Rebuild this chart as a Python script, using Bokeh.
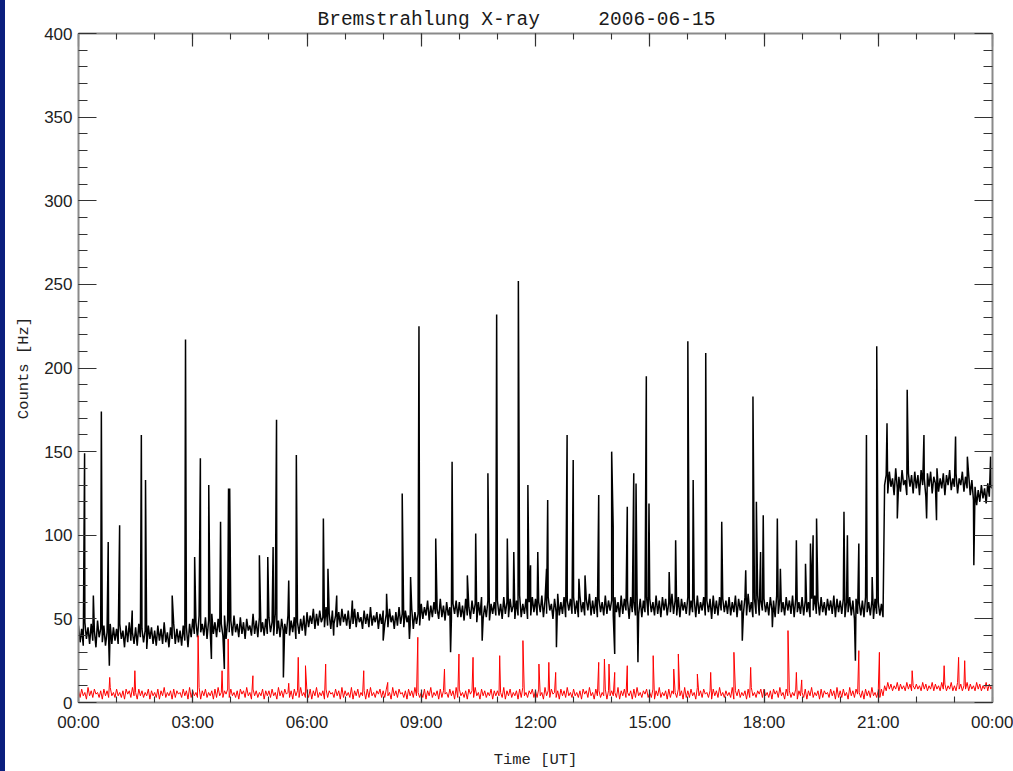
import numpy as np
from bokeh.plotting import figure
from bokeh.models import LinearAxis, FixedTicker, Range1d, Spacer
from bokeh.layouts import row
from bokeh.embed import file_html
from bokeh.resources import INLINE

# ---------------- text / ticks ----------------
title_text = "Bremstrahlung X-ray\u00a0\u00a0\u00a0\u00a0\u00a02006-06-15"
x_label = "Time [UT]"
y_label = "Counts [Hz]"
x_tick_hours = [0, 3, 6, 9, 12, 15, 18, 21, 24]
x_tick_labels = ["00:00", "03:00", "06:00", "09:00", "12:00",
                 "15:00", "18:00", "21:00", "00:00"]
x_minor_hours = list(range(0, 25))
y_ticks = [0, 50, 100, 150, 200, 250, 300, 350, 400]
y_minor = list(range(0, 401, 10))

step_min = 2.5   # background samples every 2.5 minutes (24 per hour)

# ---------------- black series (total counts) ----------------
black_00_06 = [
    46, 36, 44, 34, 48, 38, 45, 35, 47, 37, 43, 33, 49, 39, 44, 36, 46, 34, 42, 38, 47, 35, 45, 37,
    44, 35, 47, 38, 43, 33, 46, 36, 48, 37, 42, 35, 45, 34, 47, 39, 44, 36, 43, 32, 46, 38, 45, 35,
    43, 34, 46, 37, 44, 35, 48, 36, 42, 33, 45, 38, 47, 35, 44, 36, 43, 34, 46, 37, 45, 33, 47, 39,
    50, 41, 48, 39, 52, 42, 47, 40, 51, 38, 49, 43, 53, 41, 48, 39, 50, 42, 47, 40, 52, 38, 49, 42,
    49, 40, 52, 42, 47, 39, 51, 41, 48, 38, 50, 43, 46, 40, 53, 41, 49, 39, 51, 42, 48, 40, 50, 41,
    51, 42, 48, 40, 53, 41, 49, 39, 50, 43, 47, 41, 52, 40, 49, 42, 51, 38, 48, 41, 50, 43, 52, 40]
black_06_12 = [
    54, 45, 52, 47, 56, 44, 53, 46, 55, 48, 51, 45, 57, 46, 53, 44, 55, 47, 52, 45, 54, 46, 56, 48,
    53, 46, 55, 44, 52, 47, 56, 45, 54, 48, 51, 44, 55, 47, 53, 45, 57, 46, 52, 48, 54, 44, 53, 47,
    55, 47, 53, 45, 56, 48, 52, 44, 54, 46, 57, 47, 53, 45, 55, 48, 52, 46, 56, 44, 54, 47, 53, 46,
    59, 50, 57, 52, 61, 49, 58, 51, 60, 53, 56, 50, 62, 51, 58, 49, 60, 52, 57, 50, 59, 53, 61, 51,
    60, 51, 58, 49, 62, 52, 57, 50, 61, 53, 59, 48, 60, 52, 63, 50, 58, 51, 61, 49, 59, 53, 60, 52,
    61, 52, 59, 50, 63, 53, 60, 51, 62, 54, 58, 50, 61, 52, 64, 51, 59, 53, 62, 50, 60, 52, 63, 54]
black_12_18 = [
    62, 52, 60, 54, 64, 51, 61, 53, 63, 55, 59, 50, 62, 54, 65, 52, 60, 53, 63, 51, 61, 55, 62, 53,
    63, 53, 61, 51, 64, 54, 60, 52, 62, 55, 65, 52, 61, 53, 63, 51, 62, 54, 60, 52, 64, 53, 61, 55,
    61, 52, 63, 54, 60, 51, 64, 53, 62, 55, 61, 50, 63, 54, 60, 52, 65, 53, 62, 51, 61, 54, 63, 52,
    62, 54, 60, 52, 64, 53, 61, 51, 63, 55, 62, 52, 60, 54, 65, 53, 61, 52, 63, 51, 62, 55, 60, 53,
    63, 52, 61, 54, 62, 51, 64, 53, 60, 55, 63, 52, 61, 54, 62, 50, 64, 53, 61, 52, 63, 55, 62, 54,
    61, 53, 63, 52, 60, 54, 64, 51, 62, 55, 61, 53, 63, 52, 65, 54, 60, 51, 62, 53, 64, 52, 61, 55]
black_18_24 = [
    62, 54, 60, 52, 63, 55, 61, 51, 64, 53, 62, 54, 60, 52, 63, 55, 61, 53, 64, 51, 62, 54, 60, 53,
    63, 52, 61, 54, 60, 51, 62, 55, 64, 53, 61, 52, 63, 54, 60, 52, 62, 55, 61, 53, 64, 51, 62, 54,
    61, 53, 62, 51, 60, 54, 63, 52, 61, 50, 62, 53, 60, 52, 61, 51, 63, 54, 60, 52, 61, 50, 62, 53,
    60, 52, 59, 51, 130, 136, 125, 138, 129, 134, 124, 140, 128, 135, 126, 139, 130, 133, 124, 137, 129, 136, 125, 138,
    128, 136, 124, 139, 130, 134, 123, 137, 129, 138, 125, 135, 131, 140, 126, 134, 128, 137, 124, 136, 130, 139, 127, 134,
    129, 137, 125, 134, 130, 138, 126, 135, 128, 136, 124, 133, 121, 129, 118, 127, 120, 130, 122, 128, 119, 131, 123, 129,
    128]

# spikes and dips of the black series (hour of day, counts)
black_spike_t = [0.16, 0.39, 0.60, 0.78, 0.81, 1.08, 1.41, 1.65, 1.76, 2.46,
                 2.81, 3.05, 3.20, 3.42, 3.49, 3.73, 3.83, 3.94, 3.97, 4.75,
                 4.97, 5.11, 5.20, 5.38, 5.52, 5.72, 6.43, 6.55, 6.70, 6.78,
                 7.19, 8.00, 8.09, 8.50, 8.69, 8.72, 8.94, 9.38, 9.77, 9.81,
                 10.21, 10.43, 10.60, 10.75, 10.98, 11.26, 11.43, 11.55, 11.80, 11.87,
                 12.06, 12.29, 12.32, 12.55, 12.83, 12.99, 13.14, 13.30, 13.66, 14.00,
                 14.04, 14.08, 14.41, 14.58, 14.64, 14.69, 14.91, 14.98, 15.51, 15.68,
                 16.00, 16.14, 16.47, 16.89, 17.43, 17.52, 17.71, 17.80, 17.91, 17.98,
                 18.22, 18.35, 18.43, 18.85, 19.09, 19.22, 19.29, 19.38, 20.10, 20.19,
                 20.40, 20.49, 20.69, 20.84, 20.96, 21.23, 21.50, 21.76, 22.20, 22.27,
                 22.53, 23.03, 23.34, 23.51, 23.95]
black_spike_v = [149, 64, 174, 96, 22, 106, 55, 160, 133, 64,
                 217, 87, 146, 130, 26, 108, 20, 128, 128, 88,
                 87, 93, 169, 15, 73, 148, 110, 80, 40, 64,
                 61, 37, 65, 125, 38, 75, 225, 98, 30, 144,
                 76, 101, 37, 137, 232, 98, 90, 252, 130, 82,
                 90, 80, 121, 33, 160, 145, 74, 76, 124, 150,
                 105, 29, 117, 137, 131, 24, 195, 119, 78, 97,
                 216, 133, 209, 108, 37, 79, 183, 120, 90, 112,
                 45, 110, 80, 97, 83, 95, 100, 110, 114, 100,
                 25, 95, 160, 75, 213, 167, 110, 187, 160, 110,
                 109, 159, 147, 82, 147]

# ---------------- red series ----------------
red_00_06 = [
    7, 3, 8, 4, 6, 2, 9, 4, 7, 3, 8, 5, 6, 3, 7, 2, 8, 4, 7, 3, 9, 4, 6, 3,
    8, 4, 6, 3, 7, 2, 8, 5, 7, 3, 9, 4, 6, 2, 8, 4, 7, 3, 6, 4, 8, 2, 7, 4,
    6, 3, 8, 2, 7, 4, 9, 3, 6, 4, 7, 2, 8, 3, 7, 5, 6, 3, 8, 4, 7, 2, 9, 3,
    7, 4, 6, 3, 9, 2, 7, 4, 8, 3, 6, 4, 7, 2, 8, 3, 9, 4, 6, 3, 7, 5, 8, 3,
    8, 4, 6, 3, 7, 2, 8, 5, 7, 3, 9, 4, 6, 2, 8, 4, 7, 3, 6, 4, 8, 2, 7, 4,
    7, 3, 8, 4, 6, 2, 9, 4, 7, 3, 8, 5, 6, 3, 7, 2, 8, 4, 7, 3, 9, 4, 6, 3]
red_06_12 = [
    6, 3, 8, 2, 7, 4, 9, 3, 6, 4, 7, 2, 8, 3, 7, 5, 6, 3, 8, 4, 7, 2, 9, 3,
    7, 4, 6, 3, 9, 2, 7, 4, 8, 3, 6, 4, 7, 2, 8, 3, 9, 4, 6, 3, 7, 5, 8, 3,
    7, 3, 8, 4, 6, 2, 9, 4, 7, 3, 8, 5, 6, 3, 7, 2, 8, 4, 7, 3, 9, 4, 6, 3,
    6, 3, 8, 2, 7, 4, 9, 3, 6, 4, 7, 2, 8, 3, 7, 5, 6, 3, 8, 4, 7, 2, 9, 3,
    8, 4, 6, 3, 7, 2, 8, 5, 7, 3, 9, 4, 6, 2, 8, 4, 7, 3, 6, 4, 8, 2, 7, 4,
    7, 4, 6, 3, 9, 2, 7, 4, 8, 3, 6, 4, 7, 2, 8, 3, 9, 4, 6, 3, 7, 5, 8, 3]
red_12_18 = [
    7, 3, 8, 4, 6, 2, 9, 4, 7, 3, 8, 5, 6, 3, 7, 2, 8, 4, 7, 3, 9, 4, 6, 3,
    8, 4, 6, 3, 7, 2, 8, 5, 7, 3, 9, 4, 6, 2, 8, 4, 7, 3, 6, 4, 8, 2, 7, 4,
    7, 4, 6, 3, 9, 2, 7, 4, 8, 3, 6, 4, 7, 2, 8, 3, 9, 4, 6, 3, 7, 5, 8, 3,
    6, 3, 8, 2, 7, 4, 9, 3, 6, 4, 7, 2, 8, 3, 7, 5, 6, 3, 8, 4, 7, 2, 9, 3,
    7, 3, 8, 4, 6, 2, 9, 4, 7, 3, 8, 5, 6, 3, 7, 2, 8, 4, 7, 3, 9, 4, 6, 3,
    7, 4, 6, 3, 9, 2, 7, 4, 8, 3, 6, 4, 7, 2, 8, 3, 9, 4, 6, 3, 7, 5, 8, 3]
red_18_24 = [
    8, 4, 6, 3, 7, 2, 8, 5, 7, 3, 9, 4, 6, 2, 8, 4, 7, 3, 6, 4, 8, 2, 7, 4,
    6, 3, 8, 2, 7, 4, 9, 3, 6, 4, 7, 2, 8, 3, 7, 5, 6, 3, 8, 4, 7, 2, 9, 3,
    7, 3, 8, 4, 6, 2, 9, 4, 7, 3, 8, 5, 6, 3, 7, 2, 8, 4, 7, 3, 9, 4, 6, 3,
    7, 3, 8, 4, 10, 7, 12, 8, 11, 7, 10, 8, 12, 7, 11, 8, 10, 7, 12, 8, 11, 7, 10, 8,
    11, 8, 10, 7, 12, 8, 11, 7, 10, 8, 12, 7, 11, 8, 10, 7, 12, 8, 11, 7, 10, 8, 12, 7,
    10, 7, 12, 8, 11, 7, 10, 8, 12, 7, 11, 8, 10, 7, 12, 8, 11, 7, 10, 8, 12, 7, 11, 8,
    10]

red_spike_t = [0.82, 1.48, 3.14, 3.77, 3.93, 4.58, 5.52, 5.77, 5.96, 6.49,
               7.49, 8.12, 8.91, 9.61, 9.99, 10.36, 11.06, 11.67, 12.09, 12.35,
               12.53, 13.66, 13.81, 13.93, 14.08, 14.41, 15.09, 15.63, 15.75, 16.25,
               16.60, 17.21, 17.65, 18.63, 18.85, 18.99, 20.49, 21.03, 21.89, 22.73,
               23.11, 23.27]
red_spike_v = [15, 19, 40, 19, 38, 16, 11.5, 27, 22, 23,
               19, 12, 39, 20, 29, 27, 28, 37, 23, 24,
               18, 24, 26, 23, 18, 22, 28, 20, 29, 17,
               18, 30, 21, 43, 18, 13.5, 31, 30, 19, 22,
               27, 25]


def build_series(chunks, spike_t, spike_v):
    base = np.concatenate([np.asarray(c, dtype=float) for c in chunks])
    t = np.arange(len(base)) * step_min / 60.0
    tt = np.concatenate([t, np.asarray(spike_t, dtype=float)])
    vv = np.concatenate([base, np.asarray(spike_v, dtype=float)])
    order = np.argsort(tt, kind="stable")
    return tt[order], vv[order]


bt, bv = build_series([black_00_06, black_06_12, black_12_18, black_18_24],
                      black_spike_t, black_spike_v)
rt, rv = build_series([red_00_06, red_06_12, red_12_18, red_18_24],
                      red_spike_t, red_spike_v)

# ---------------- figure ----------------
p = figure(width=1008, height=771, output_backend="svg", toolbar_location=None,
           x_range=Range1d(0, 24), y_range=Range1d(0, 400),
           min_border_left=73, min_border_right=21,
           min_border_top=33, min_border_bottom=64,
           background_fill_color="white", border_fill_color="white")
p.outline_line_color = None
p.xgrid.visible = False
p.ygrid.visible = False

bottom_axis = p.below[0]
left_axis = p.left[0]

p.line(bt, bv, line_color="black", line_width=1.5)
p.line(rt, rv, line_color="#ff0000", line_width=1.0)

# title
p.title.text = title_text
p.title.text_font = "Liberation Mono"
p.title.text_font_size = "19.5px"
p.title.text_font_style = "normal"
p.title.text_color = "#1a1a1a"
p.title.align = "left"
p.title.offset = 239
p.title.standoff = 6

axis_gray = "#8a8a8a"
tick_col = "#333333"

top_axis = LinearAxis()
right_axis = LinearAxis()
p.add_layout(top_axis, "above")
p.add_layout(right_axis, "right")

x_overrides = {h: lab for h, lab in zip(x_tick_hours, x_tick_labels)}

for ax in [bottom_axis, top_axis]:
    ax.ticker = FixedTicker(ticks=x_tick_hours, minor_ticks=x_minor_hours)
    ax.major_tick_in = 13
    ax.minor_tick_in = 6
for ax in [left_axis, right_axis]:
    ax.ticker = FixedTicker(ticks=y_ticks, minor_ticks=y_minor)
    ax.major_tick_in = 18
    ax.minor_tick_in = 9

for ax in [bottom_axis, top_axis, left_axis, right_axis]:
    ax.major_tick_out = 0
    ax.minor_tick_out = 0
    ax.axis_line_color = axis_gray
    ax.axis_line_width = 2
    ax.major_tick_line_color = tick_col
    ax.minor_tick_line_color = tick_col
    ax.major_tick_line_width = 1.2
    ax.minor_tick_line_width = 1.1
    ax.major_label_text_font = "Liberation Sans"
    ax.major_label_text_font_size = "17px"
    ax.major_label_text_color = "#222222"
    ax.axis_label_text_font = "Liberation Mono"
    ax.axis_label_text_font_size = "15.5px"
    ax.axis_label_text_font_style = "normal"
    ax.axis_label_text_color = "#222222"

# top / right axes: ticks only, no labels
for ax in [top_axis, right_axis]:
    ax.major_label_text_font_size = "1px"
    ax.major_label_text_color = None
    ax.major_label_standoff = 0

bottom_axis.major_label_overrides = x_overrides
bottom_axis.major_label_standoff = 10
bottom_axis.axis_label = x_label
bottom_axis.axis_label_standoff = 16
left_axis.major_label_standoff = 6
left_axis.axis_label = y_label
left_axis.axis_label_standoff = 8

edge = Spacer(width=5, height=771, styles={"background-color": "#0b1f7e"})
layout = row(edge, p)

open("out.html", "w").write(file_html(layout, INLINE))
